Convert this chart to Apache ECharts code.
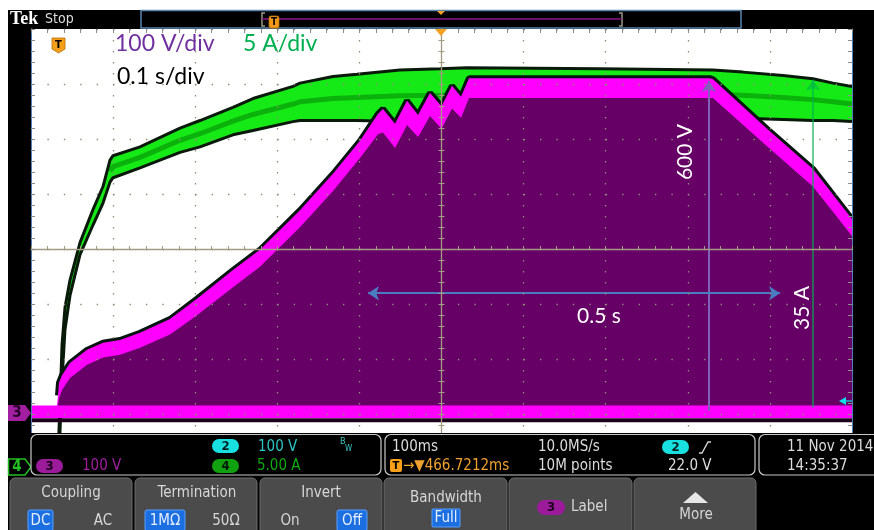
<!DOCTYPE html>
<html><head><meta charset="utf-8">
<script src="https://cdn.jsdelivr.net/npm/echarts@6/dist/echarts.min.js"></script>
<style>html,body{margin:0;padding:0;background:#000;}#c{width:874px;height:530px;}</style>
</head><body><div id="c"></div>
<script>
// ===== DATA =====
// time in seconds relative to the trigger (0.1 s/div, 10 div)
const tV = [-0.5, -0.4683, -0.4671, -0.4659, -0.4622, -0.4525, -0.4318, -0.4123, -0.3916, -0.3672,
            -0.3307, -0.2978, -0.2540, -0.2211, -0.1724, -0.1322, -0.0993, -0.0774, -0.0713, -0.0566,
            -0.0420, -0.0286, -0.0140, 0.0, 0.0128, 0.0238, 0.0335, 0.3270, 0.3307, 0.3965, 0.4525, 0.5];
// channel 3 voltage (V): top edge of the trace envelope
const vTop = [12, 12, 30, 53, 67, 89, 113, 126, 131, 144,
              169, 206, 258, 295, 367, 433, 493, 542, 551, 524,
              566, 540, 580, 556, 593, 573, 607, 607, 605, 515, 442, 351];
// channel 3 voltage (V): inner edge of the bright envelope band
const vInner = [12, 12, 12, 25, 40, 62, 86, 99, 104, 117,
                141, 176, 227, 264, 336, 402, 462, 505, 508, 480,
                522, 500, 538, 515, 552, 535, 571, 571, 571, 483, 410, 320];
const vBaseLow = -11, vBaseHigh = 12, vNoise = -15;   // low-level band of the switching trace (V)

const tI = [-0.5, -0.4683, -0.4671, -0.4659, -0.4647, -0.4622, -0.4586, -0.4525, -0.4403, -0.4245,
            -0.4123, -0.4038, -0.4001, -0.3672, -0.3185, -0.2941, -0.2540, -0.2296, -0.1809, -0.1724,
            -0.1322, -0.1029, -0.0506, -0.0018, 0.0311, 0.1931, 0.3307, 0.3672, 0.4160, 0.4525, 0.4769, 0.5];
// channel 4 current (A): upper and lower envelope
const iUp = [0, 0, 1.1, 3.4, 5.6, 11.1, 14.5, 17.0, 20.4, 23.4,
             25.5, 27.9, 28.3, 29.1, 30.8, 31.5, 32.7, 33.5, 34.6, 34.9,
             35.5, 35.7, 36.1, 36.2, 36.3, 36.2, 36.1, 35.9, 35.6, 35.3, 34.9, 34.6];
const iLo = [0, 0, 0, 1.1, 3.2, 7.9, 12.5, 15.6, 19.3, 22.0,
             24.0, 25.9, 26.3, 27.2, 28.6, 29.1, 30.2, 30.6, 31.4, 31.5,
             31.5, 31.5, 31.4, 31.4, 31.4, 31.4, 31.7, 31.7, 31.6, 31.5, 31.5, 31.4];

// annotations (data units)
const arrow600V = {t: 0.3258, from: 2, to: 602};
const arrow35A = {t: 0.4525, from: 5.4, to: 35.2};
const arrowHalfSec = {v: 216, from: -0.0895, to: 0.4123};

// ===== CHART =====
const UI = "'DejaVu Sans Condensed','Liberation Sans Narrow',Roboto,sans-serif";
const CAL = "Lato,'Open Sans',sans-serif";
const tan = '#a39a82', dotC = '#8e8c78', rulerC = '#8c8c8c';

function pairs(t, v) { return t.map((x, i) => [x, v[i]]); }
function band(tArr, up, lo, fill) {
  return function (params, api) {
    const pts = [];
    for (let i = 0; i < tArr.length; i++) pts.push(api.coord([tArr[i], up(i)]));
    for (let i = tArr.length - 1; i >= 0; i--) pts.push(api.coord([tArr[i], lo(i)]));
    return {type: 'polygon', shape: {points: pts}, style: {fill: fill}};
  };
}

const timeAxisBase = {type: 'value', min: -0.5, max: 0.5, interval: 0.1, axisLabel: {show: false}, z: 10};
const divAxisBase = {type: 'value', min: -4, max: 4, interval: 1, axisLabel: {show: false}, z: 10};

const g = [];
const Z = 100;
function R(x, y, w, h, style, r) { g.push({type: 'rect', z: Z, shape: {x, y, width: w, height: h, r: r || 0}, style}); }
function T(x, y, s, font, fill, align, extra) {
  g.push(Object.assign({type: 'text', z: Z + 1, x, y,
    style: {text: s, font, fill, textAlign: align || 'left', textVerticalAlign: 'middle', align: align || 'left', verticalAlign: 'middle'}}, extra || {}));
}
function P(points, style) { g.push({type: 'polygon', z: Z, shape: {points}, style}); }
function L(points, style) { g.push({type: 'polyline', z: Z, shape: {points}, style: Object.assign({fill: null}, style)}); }

// margins & frame
R(0, 0, 874, 10, {fill: '#fff'});
R(0, 0, 8, 530, {fill: '#fff'});
R(8, 433, 866, 97, {fill: '#000'});
// top bar
T(10, 19.5, 'Tek', "bold 18px 'Liberation Serif',serif", '#fff');
T(45, 19.5, 'Stop', '14px ' + UI, '#dcdcdc');
R(141, 10.5, 600, 17.5, {fill: '#000', stroke: '#5a84ad', lineWidth: 1.5});
L([[265, 13], [262, 13], [262, 26], [265, 26]], {stroke: '#9a9684', lineWidth: 1.5});
L([[619, 13], [622, 13], [622, 26], [619, 26]], {stroke: '#9a9684', lineWidth: 1.5});
L([[262, 19], [622, 19]], {stroke: '#8b158b', lineWidth: 1.5});
R(269, 16, 10, 12, {fill: '#f29a18', stroke: '#b86e00', lineWidth: 0.8}, 2);
T(274, 22.5, 'T', 'bold 10px ' + UI, '#000', 'center');
P([[437, 11], [445, 11], [441, 15]], {fill: '#f5a020'});
P([[435, 29], [447, 29], [441, 36]], {fill: '#f5a020'});
// plot annotations
P([[52, 38], [65, 38], [65, 49], [58.5, 53], [52, 49]], {fill: '#f5a01a', stroke: '#b86e00', lineWidth: 0.8});
T(58.5, 45, 'T', 'bold 11px ' + UI, '#000', 'center');
T(115, 44, '100 V/div', '23px ' + CAL, '#7030a0');
T(243, 44, '5 A/div', '23px ' + CAL, '#00b050');
T(117, 77, '0.1 s/div', '23px ' + CAL, '#000');
T(685, 152, '600 V', '21px ' + CAL, '#fff', 'center', {rotation: Math.PI / 2});
T(599, 316, '0.5 s', '21px ' + CAL, '#fff', 'center');
T(802, 308, '35 A', '21px ' + CAL, '#fff', 'center', {rotation: Math.PI / 2});
P([[839, 401], [846, 397], [846, 405]], {fill: '#10e0e8'});
L([[846, 401], [852, 401]], {stroke: '#10e0e8', lineWidth: 1.2});
// channel ground markers
P([[8, 405], [25, 405], [31, 413], [25, 421], [8, 421]], {fill: '#a21fa2'});
T(17, 413.5, '3', 'bold 15px ' + UI, '#2a002a', 'center');
P([[8.5, 459], [25, 459], [31, 467], [25, 475], [8.5, 475]], {fill: '#000', stroke: '#22c022', lineWidth: 1.5});
T(17, 467.5, '4', 'bold 15px ' + UI, '#22c022', 'center');
// info boxes
R(31, 434.5, 350, 40.5, {fill: '#000', stroke: '#c8c8c8', lineWidth: 1.2}, 6);
R(385, 434.5, 370, 40.5, {fill: '#000', stroke: '#c8c8c8', lineWidth: 1.2}, 6);
R(759, 434.5, 125, 40.5, {fill: '#000', stroke: '#c8c8c8', lineWidth: 1.2}, 6);
R(212, 439, 27, 14, {fill: '#18e0e0'}, 7); T(225.5, 446.5, '2', 'bold 13px ' + UI, '#002020', 'center');
T(258, 447, '100 V', '15px ' + UI, '#2cc6c6');
T(340, 442, 'B', '9px ' + UI, '#40c8c8'); T(345, 449, 'W', '8px ' + UI, '#40c8c8');
R(36, 459, 27, 14, {fill: '#9b1b9b'}, 7); T(49.5, 466.5, '3', 'bold 13px ' + UI, '#1a001a', 'center');
T(82, 466, '100 V', '15px ' + UI, '#a01ea0');
R(212, 459, 27, 14, {fill: '#10a010'}, 7); T(225.5, 466.5, '4', 'bold 13px ' + UI, '#001a00', 'center');
T(257, 466, '5.00 A', '15px ' + UI, '#10a810');
T(392, 447, '100ms', '15px ' + UI, '#dcdcdc');
T(538, 447, '10.0MS/s', '15px ' + UI, '#dcdcdc');
R(662, 440, 27, 14, {fill: '#18e0e0'}, 7); T(675.5, 447.5, '2', 'bold 13px ' + UI, '#002020', 'center');
L([[699, 453], [702, 453], [708, 442], [711, 442]], {stroke: '#d8d8d8', lineWidth: 1.3});
R(390, 459, 12, 13, {fill: '#f7a11a'}, 2); T(396, 466, 'T', 'bold 11px ' + UI, '#000', 'center');
T(403, 466, '→▼466.7212ms', '15px ' + UI, '#f0a030');
T(538, 466, '10M points', '15px ' + UI, '#dcdcdc');
T(668, 466, '22.0 V', '15px ' + UI, '#dcdcdc');
T(787, 447, '11 Nov 2014', '15px ' + UI, '#dcdcdc');
T(787, 466, '14:35:37', '15px ' + UI, '#dcdcdc');
// buttons
[[10, 122], [135, 122], [260, 122], [384, 123], [509, 123], [634, 122]].forEach(b =>
  R(b[0], 478, b[1], 56, {fill: '#4b4b4b', stroke: '#6d6d6d', lineWidth: 1}, [5, 5, 0, 0]));
const bf = '15px ' + UI, bc = '#d6d6d6', sel = {fill: '#1c6fe0', stroke: '#56a0ff', lineWidth: 1};
T(71, 493, 'Coupling', bf, bc, 'center');
R(28, 510, 25, 21, sel, 2); T(40.5, 521, 'DC', bf, '#e6efff', 'center');
T(103, 521, 'AC', bf, bc, 'center');
T(197, 493, 'Termination', bf, bc, 'center');
R(145, 510, 40, 21, sel, 2); T(165, 521, '1MΩ', bf, '#e6efff', 'center');
T(226, 521, '50Ω', bf, bc, 'center');
T(321, 493, 'Invert', bf, bc, 'center');
T(290, 521, 'On', bf, bc, 'center');
R(337, 510, 30, 21, sel, 2); T(352, 521, 'Off', bf, '#e6efff', 'center');
T(446, 498, 'Bandwidth', bf, bc, 'center');
R(432, 509, 28, 18, sel, 1); T(446, 518, 'Full', bf, '#e6efff', 'center');
R(537, 500, 28, 15, {fill: '#9b1b9b'}, 7.5); T(551, 507.5, '3', 'bold 13px ' + UI, '#1a001a', 'center');
T(571, 507.5, 'Label', bf, bc);
P([[683, 503], [708, 503], [695.5, 492]], {fill: '#e6e6e6'});
T(696, 515, 'More', bf, bc, 'center');

const tickStyle = (c, inside, len) => ({
  axisTick: {show: true, inside: inside, length: len, lineStyle: {color: c, width: 1}},
  minorTick: {show: true, splitNumber: 5, length: len, lineStyle: {color: c, width: 1}}
});
// centre streak of the current envelope (from the corner onwards)
const iMid = tI.map((t, i) => (i < 11 ? null : [t, (iUp[i] + iLo[i]) / 2])).filter(p => p);

const option = {
  backgroundColor: '#000',
  animation: false,
  grid: {left: 31, right: 22, top: 29, bottom: 61, show: true, backgroundColor: '#fff', borderWidth: 0, outerBoundsMode: 'none'},
  xAxis: [
    Object.assign({}, timeAxisBase, tickStyle(tan, true, 3), {
      axisLine: {show: true, onZero: true, onZeroAxisIndex: 0, lineStyle: {color: tan, width: 1.3}},
      splitLine: {show: true, lineStyle: {color: dotC, width: 1.3, type: [1.4, 9.6]}}
    }),
    Object.assign({}, timeAxisBase, tickStyle(tan, false, 3), {
      axisLine: {show: false, onZero: true, onZeroAxisIndex: 0},
      splitLine: {show: false}
    }),
    Object.assign({}, timeAxisBase, tickStyle(rulerC, true, 4), {
      position: 'top',
      axisLine: {show: false, onZero: false},
      splitLine: {show: false}
    })
  ],
  yAxis: [
    Object.assign({}, divAxisBase, {
      axisLine: {show: false, onZero: false}, axisTick: {show: false},
      splitLine: {show: true, lineStyle: {color: dotC, width: 1.3, type: [1.4, 15.02]}}
    }),
    Object.assign({}, divAxisBase, tickStyle(tan, true, 3), {   // centre vertical line (trigger)
      position: 'left', offset: -410.5,
      axisLine: {show: true, onZero: false, lineStyle: {color: tan, width: 1.3}},
      splitLine: {show: false}
    }),
    Object.assign({}, divAxisBase, tickStyle(tan, false, 3), {
      position: 'left', offset: -410.5,
      axisLine: {show: false, onZero: false},
      splitLine: {show: false}
    }),
    Object.assign({}, divAxisBase, tickStyle(rulerC, true, 4), {
      position: 'left',
      axisLine: {show: true, onZero: false, lineStyle: {color: '#4f7fb8', width: 1}},
      splitLine: {show: false}
    }),
    Object.assign({}, divAxisBase, tickStyle(rulerC, true, 4), {
      position: 'right',
      axisLine: {show: true, onZero: false, lineStyle: {color: '#4f7fb8', width: 1}},
      splitLine: {show: false}
    }),
    {type: 'value', min: -103.6, max: 696.4, show: false},   // volts, 100 V/div
    {type: 'value', min: -0.18, max: 39.82, show: false}     // amps, 5 A/div
  ],
  series: [
    {type: 'custom', name: 'I band', z: 2, xAxisIndex: 0, yAxisIndex: 6, clip: true, silent: true, data: [[0, 0]],
     renderItem: band(tI, i => iUp[i], i => iLo[i], '#16ea16')},
    {type: 'line', name: 'I streak', z: 2, xAxisIndex: 0, yAxisIndex: 6, data: iMid, showSymbol: false, symbol: 'none', silent: true,
     lineStyle: {color: 'rgba(0,110,0,0.45)', width: 5}},
    {type: 'line', name: 'I upper', z: 3, xAxisIndex: 0, yAxisIndex: 6, data: pairs(tI, iUp), showSymbol: false, symbol: 'none', silent: true,
     lineStyle: {color: '#0a1a0a', width: 3}},
    {type: 'line', name: 'I lower', z: 3, xAxisIndex: 0, yAxisIndex: 6, data: pairs(tI, iLo), showSymbol: false, symbol: 'none', silent: true,
     lineStyle: {color: '#0a1a0a', width: 3}},
    {type: 'line', name: 'V outline', z: 4, xAxisIndex: 0, yAxisIndex: 5, data: pairs(tV.slice(2), vTop.slice(2)), showSymbol: false, symbol: 'none', silent: true,
     lineStyle: {color: '#061410', width: 6}},
    {type: 'custom', name: 'V envelope', z: 5, xAxisIndex: 0, yAxisIndex: 5, clip: true, silent: true, data: [[0, 0]],
     renderItem: band(tV, i => vTop[i], i => vBaseLow, '#ff00ff')},
    {type: 'custom', name: 'V fill', z: 6, xAxisIndex: 0, yAxisIndex: 5, clip: true, silent: true, data: [[0, 0]],
     renderItem: band(tV, i => Math.max(vInner[i], vBaseHigh), i => vBaseHigh, '#660066')},
    {type: 'line', name: 'V noise', z: 7, xAxisIndex: 0, yAxisIndex: 5, data: [[tV[0], vNoise], [tV[tV.length - 1], vNoise]], showSymbol: false, symbol: 'none', silent: true,
     lineStyle: {color: '#1e001e', width: 4},
     markLine: {z: 8, silent: true, symbolSize: 11, label: {show: false},
       data: [
         [{coord: [arrow600V.t, arrow600V.from], symbol: 'none', lineStyle: {color: '#8060b8', width: 2, type: 'solid'}},
          {coord: [arrow600V.t, arrow600V.to], symbol: 'arrow'}],
         [{coord: [arrowHalfSec.from, arrowHalfSec.v], symbol: 'arrow', lineStyle: {color: '#4a7cc0', width: 2, type: 'solid'}},
          {coord: [arrowHalfSec.to, arrowHalfSec.v], symbol: 'arrow'}]
       ]}},
    {type: 'line', name: 'I arrow host', z: 7, xAxisIndex: 0, yAxisIndex: 6, data: [], showSymbol: false, silent: true,
     markLine: {z: 8, silent: true, symbolSize: 11, label: {show: false},
       data: [[{coord: [arrow35A.t, arrow35A.from], symbol: 'none', lineStyle: {color: 'rgba(0,176,80,0.6)', width: 2, type: 'solid'}},
               {coord: [arrow35A.t, arrow35A.to], symbol: 'arrow'}]]}}
  ],
  graphic: {elements: g}
};
const chart = echarts.init(document.getElementById('c'), null, {width: 874, height: 530});
chart.setOption(option);
</script></body></html>
